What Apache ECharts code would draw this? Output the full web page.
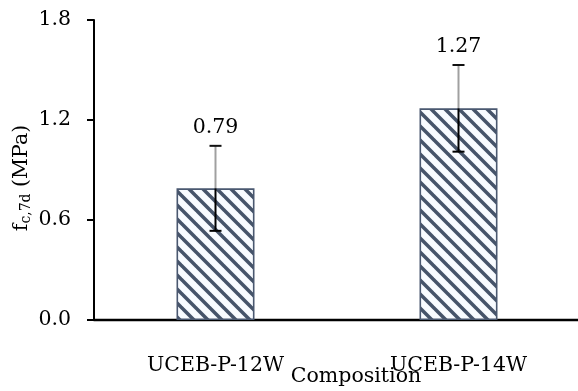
<!DOCTYPE html>
<html>
<head>
<meta charset="utf-8">
<script src="https://cdn.jsdelivr.net/npm/echarts@6/dist/echarts.min.js"></script>
<style>html,body{margin:0;padding:0;background:#fff}#c{width:578px;height:391px}</style>
</head>
<body>
<div id="c"></div>
<script>
var categories = ['UCEB-P-12W', 'UCEB-P-14W'];
var values = [0.79, 1.27];
var errors = [0.255, 0.26];
var yTicks = [0, 0.6, 1.2, 1.8];

var FONT = 'DejaVu Serif';

function makePattern() {
  var s = 14;
  var cv = document.createElement('canvas');
  cv.width = s; cv.height = s;
  var ctx = cv.getContext('2d');
  ctx.fillStyle = '#f8fbff';
  ctx.fillRect(0, 0, s, s);
  ctx.strokeStyle = '#46546a';
  ctx.lineWidth = 3.5;
  for (var k = -1; k <= 1; k++) {
    ctx.beginPath();
    ctx.moveTo(-1, k * s - 1);
    ctx.lineTo(s + 1, s + k * s + 1);
    ctx.stroke();
  }
  return cv;
}

var chart = echarts.init(document.getElementById('c'));
var errData = values.map(function (v, i) { return [i, v, errors[i]]; });

chart.setOption({
  animation: false,
  grid: { left: 94, top: 20, width: 486, height: 300, containLabel: false, outerBoundsMode: 'none' },
  xAxis: {
    type: 'category',
    data: categories,
    axisLine: { lineStyle: { color: '#000', width: 2.4 } },
    axisTick: { show: false },
    axisLabel: { color: '#000', fontFamily: FONT, fontSize: 20.5, margin: 35 },
    name: 'Composition',
    nameLocation: 'middle',
    nameGap: 46,
    nameMoveOverlap: false,
    nameTextStyle: { color: '#000', fontFamily: FONT, fontSize: 20.5, padding: [0, 0, 0, 38] }
  },
  yAxis: {
    type: 'value',
    min: 0, max: 1.8, interval: 0.6,
    axisLine: { show: true, lineStyle: { color: '#000', width: 2 } },
    axisTick: { show: true, length: 7, inside: false, lineStyle: { color: '#000', width: 2 } },
    splitLine: { show: false },
    axisLabel: {
      color: '#000', fontFamily: FONT, fontSize: 20.5, margin: 23,
      formatter: function (v) { return v.toFixed(1); }
    },
    name: '{a|f}{s|c,7d}{a| (MPa)}',
    nameLocation: 'middle',
    nameGap: 61,
    nameMoveOverlap: false,
    nameRotate: 90,
    nameTextStyle: {
      padding: [0, 16, 0, 0],
      rich: {
        a: { color: '#000', fontFamily: FONT, fontSize: 20.5 },
        s: { color: '#000', fontFamily: FONT, fontSize: 14, verticalAlign: 'bottom', padding: [8, 0, 0, 0] }
      }
    }
  },
  series: [
    {
      type: 'bar',
      data: values,
      barWidth: 78,
      itemStyle: {
        color: { image: makePattern(), repeat: 'repeat' },
        borderColor: '#4a5870',
        borderWidth: 1.6
      },
      z: 2
    },
    {
      type: 'custom',
      data: errData,
      z: 5,
      renderItem: function (params, api) {
        var i = api.value(0), v = api.value(1), e = api.value(2);
        var top = api.coord([i, v + e]);
        var mid = api.coord([i, v]);
        var bot = api.coord([i, v - e]);
        var x = top[0];
        var hw = 6;
        return {
          type: 'group',
          children: [
            { type: 'line', shape: { x1: x, y1: top[1], x2: x, y2: mid[1] }, style: { stroke: '#a0a0a0', lineWidth: 2 } },
            { type: 'line', shape: { x1: x, y1: mid[1], x2: x, y2: bot[1] }, style: { stroke: '#000', lineWidth: 2 } },
            { type: 'line', shape: { x1: x - hw, y1: top[1], x2: x + hw, y2: top[1] }, style: { stroke: '#111', lineWidth: 2 } },
            { type: 'line', shape: { x1: x - hw, y1: bot[1], x2: x + hw, y2: bot[1] }, style: { stroke: '#000', lineWidth: 2 } },
            { type: 'text', style: { text: v.toFixed(2), x: x, y: top[1] - 18, align: 'center', verticalAlign: 'middle', fill: '#000', font: '20.5px "' + FONT + '"' } }
          ]
        };
      }
    }
  ]
});
</script>
</body>
</html>
